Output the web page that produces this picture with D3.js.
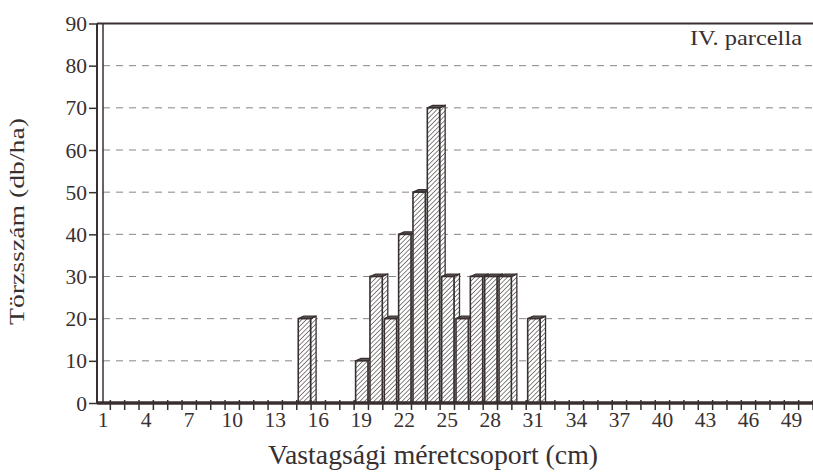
<!DOCTYPE html>
<html><head><meta charset="utf-8">
<script src="https://cdn.jsdelivr.net/npm/d3@7"></script>
<style>body{margin:0;background:#fff}svg{display:block}</style>
</head><body>
<svg id="c" width="813" height="474"></svg>
<script>
const categories = d3.range(1, 51);
const values = [0,0,0,0,0,0,0,0,0,0, 0,0,0,0,20,0,0,0,10,30, 20,40,50,70,30,20,30,30,30,0, 20,0,0,0,0,0,0,0,0,0, 0,0,0,0,0,0,0,0,0,0];
const tickLabels = [1,4,7,10,13,16,19,22,25,28,31,34,37,40,43,46,49];
const yTicks = [0,10,20,30,40,50,60,70,80,90];
const labelText = "IV. parcella";
const xTitle = "Vastagsági méretcsoport (cm)";
const yTitle = "Törzsszám (db/ha)";

const ink = "#383030";
const svg = d3.select("#c");
const x = d3.scaleBand().domain(categories).range([96, 813]).padding(0);
const y = d3.scaleLinear().domain([0, 90]).range([403, 23.5]);
const dx = 5.5, dy = -2.5;
const font = "'Liberation Serif', 'Times New Roman', serif";

const defs = svg.append("defs");
const pat = defs.append("pattern").attr("id", "hatch").attr("patternUnits", "userSpaceOnUse")
  .attr("width", 3.3).attr("height", 3.3).attr("patternTransform", "rotate(45)");
pat.append("rect").attr("width", 3.3).attr("height", 3.3).attr("fill", "#fff");
pat.append("line").attr("x1", 0).attr("y1", 0).attr("x2", 0).attr("y2", 3.3)
  .attr("stroke", "#4a4242").attr("stroke-width", 1.3);

// gridlines
svg.append("g").selectAll("line").data(yTicks.filter(t => t > 0 && t < 90)).join("line")
  .attr("x1", 103).attr("x2", 813).attr("y1", d => y(d)).attr("y2", d => y(d))
  .attr("stroke", "#8a8484").attr("stroke-width", 1).attr("stroke-dasharray", "7,6");

svg.append("line").attr("x1", 97).attr("x2", 813).attr("y1", y(90)).attr("y2", y(90))
  .attr("stroke", ink).attr("stroke-width", 2);
svg.append("line").attr("x1", 97).attr("x2", 97).attr("y1", y(90)).attr("y2", y(0))
  .attr("stroke", ink).attr("stroke-width", 2);
svg.append("line").attr("x1", 103).attr("x2", 103).attr("y1", y(90)).attr("y2", y(0))
  .attr("stroke", ink).attr("stroke-width", 1.5);

// y axis ticks & labels
const yAxis = d3.axisLeft(y).tickValues(yTicks).tickSize(8).tickPadding(2).tickFormat(d3.format("d"));
const ya = svg.append("g").attr("transform", "translate(97,0)").call(yAxis);
ya.select(".domain").remove();
ya.selectAll("line").attr("stroke", ink).attr("stroke-width", 1.5);
ya.selectAll("text").attr("font-family", font).attr("font-size", 21.5).attr("fill", ink)
  .attr("x", -10).attr("dy", "0.33em");

// bars
const bars = svg.append("g");
categories.forEach((c, i) => {
  const v = values[i];
  if (!v) return;
  const x0 = x(c) + 1.5, x1 = x(c) + x.bandwidth() - 0.5;
  const yt = y(v), yb = y(0);
  const g = bars.append("g");
  g.append("path").attr("d", `M${x1},${yt}L${x1+dx},${yt+dy}L${x1+dx},${yb}L${x1},${yb}Z`)
    .attr("fill", "url(#hatch)").attr("stroke", ink).attr("stroke-width", 1.3);
  g.append("path").attr("d", `M${x0},${yt}L${x0+dx},${yt+dy}L${x1+dx},${yt+dy}L${x1},${yt}Z`)
    .attr("fill", "#5a5252").attr("stroke", ink).attr("stroke-width", 1.2);
  g.append("rect").attr("x", x0).attr("y", yt).attr("width", x1 - x0).attr("height", yb - yt)
    .attr("fill", "url(#hatch)").attr("stroke", ink).attr("stroke-width", 1.6);
});

svg.append("line").attr("x1", 97).attr("x2", 813).attr("y1", y(0)).attr("y2", y(0))
  .attr("stroke", ink).attr("stroke-width", 3.5);

svg.append("g").selectAll("line").data(categories).join("line")
  .attr("x1", d => x(d) + x.bandwidth()).attr("x2", d => x(d) + x.bandwidth())
  .attr("y1", y(0) - 3).attr("y2", y(0) + 7)
  .attr("stroke", ink).attr("stroke-width", 1.5);

const xAxis = d3.axisBottom(x).tickValues(tickLabels).tickSize(0).tickPadding(0);
const xa = svg.append("g").attr("transform", `translate(0,${y(0)})`).call(xAxis);
xa.select(".domain").remove();
xa.selectAll("text").attr("font-family", font).attr("font-size", 21.5).attr("fill", ink)
  .attr("y", 24).attr("dy", 0);

// titles
svg.append("text").attr("x", 268).attr("y", 464)
  .attr("font-family", font).attr("font-size", 26.5).attr("fill", ink)
  .attr("textLength", 330).attr("lengthAdjust", "spacingAndGlyphs").text(xTitle);
svg.append("text").attr("transform", "translate(24,325) rotate(-90)")
  .attr("font-family", font).attr("font-size", 22).attr("fill", ink)
  .attr("textLength", 207).attr("lengthAdjust", "spacingAndGlyphs").text(yTitle);
svg.append("text").attr("x", 802).attr("y", 45).attr("text-anchor", "end")
  .attr("font-family", font).attr("font-size", 21).attr("fill", ink)
  .attr("textLength", 112).attr("lengthAdjust", "spacingAndGlyphs").text(labelText);
</script>
</body></html>
